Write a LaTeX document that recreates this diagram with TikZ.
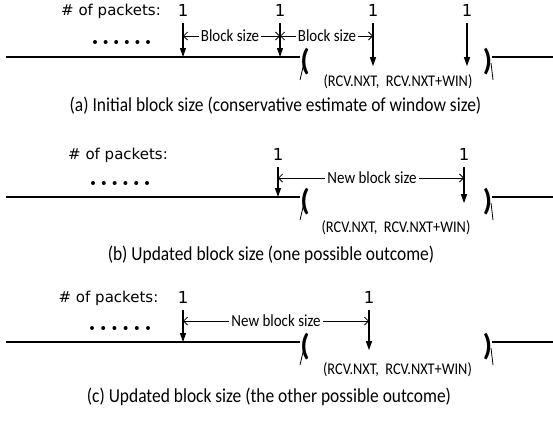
\documentclass[tikz,border=0pt]{standalone}
\usepackage{fontspec}
\setmainfont{Carlito}
\newfontfamily\numfont{DejaVu Sans}
\newfontfamily\condfont[FakeStretch=0.88]{Carlito}
\usetikzlibrary{arrows.meta}

\begin{document}
\begin{tikzpicture}
[x=1pt, y=-1pt,
    pkt/.style={font=\numfont\fontsize{15}{15}\selectfont, inner sep=0pt},
    one/.style={font=\numfont\fontsize{16.5}{16.5}\selectfont, inner sep=0pt},
    lbl/.style={font=\condfont\fontsize{17}{17}\selectfont, inner sep=2pt},
    rcv/.style={font=\condfont\fontsize{16.3}{16.3}\selectfont, inner sep=0pt},
    caption/.style={font=\condfont\fontsize{19.8}{19.8}\selectfont, inner sep=0pt},
    brk/.style={font=\bfseries\fontsize{30}{30}\selectfont, inner sep=0pt},
    drop/.style={line width=1.1pt, -{Triangle[length=9pt, width=6pt]}},
    dim/.style={line width=0.8pt, -{Straight Barb[length=4pt, width=8pt]}},
    axis/.style={line width=1.3pt},
    tail/.style={line width=0.8pt}]
\useasboundingbox (0,0) rectangle (553,421);

% (a) initial block size
\node [pkt] (pa) at (111,11) {\# of packets:};
\foreach \i in {0,...,5}
    \fill (95+10.6*\i,42) circle (2pt);
\node [one] (a1) at (183,10) {1};
\node [one] (a2) at (280,10) {1};
\node [one] (a3) at (373,10) {1};
\node [one] (a4) at (467,10) {1};
\node [brk] (ao) at (305,62) {(};
\node [brk] (ac) at (487.5,62) {)};
\coordinate (aL) at (6,57);
\coordinate (aR) at (553,57);
\draw [axis] (aL) -- (aL -| ao.west);
\draw [axis] (ac.east |- aR) -- (aR);
\draw [tail] (300,80) -- (304,63);
\draw [tail] (491,63) -- (493,80);
\draw [drop] ([yshift=-7pt]a1.south) -- (a1 |- aL);
\draw [drop] ([yshift=-7pt]a2.south) -- (a2 |- aL);
\draw [drop] ([yshift=-7pt]a3.south) -- ++(0,43);
\draw [drop] ([yshift=-7pt]a4.south) -- ++(0,43);
\node [lbl] (ab1) at (230,36) {Block size};
\node [lbl] (ab2) at (327,36) {Block size};
\draw [dim] (ab1.west) -- (ab1.west -| a1);
\draw [dim] (ab1.east) -- (ab1.east -| a2);
\draw [dim] (ab2.west) -- (ab2.west -| a2);
\draw [dim] (ab2.east) -- (ab2.east -| a3);
\node [rcv] (ar) at (398,82) {(RCV.NXT,\ \ RCV.NXT+WIN)};
\node [caption] (acap) at (275.5,106) {(a) Initial block size (conservative estimate of window size)};

% (b) one possible outcome
\node [pkt] (pb) at (118,155) {\# of packets:};
\foreach \i in {0,...,5}
    \fill (93+10.8*\i,183) circle (2pt);
\node [one] (b1) at (278,154) {1};
\node [one] (b2) at (464,154) {1};
\node [brk] (bo) at (305,202) {(};
\node [brk] (bc) at (487.5,202) {)};
\coordinate (bL) at (6,197);
\coordinate (bR) at (553,197);
\draw [axis] (bL) -- (bL -| bo.west);
\draw [axis] (bc.east |- bR) -- (bR);
\draw [tail] (300,220) -- (304,203);
\draw [tail] (491,203) -- (493,220);
\draw [drop] ([yshift=-7pt]b1.south) -- (b1 |- bL);
\draw [drop] ([yshift=-7pt]b2.south) -- ++(0,36);
\node [lbl] (bn) at (372,178) {New block size};
\draw [dim] (bn.west) -- (bn.west -| b1);
\draw [dim] (bn.east) -- (bn.east -| b2);
\node [rcv] (br) at (396,228) {(RCV.NXT,\ \ RCV.NXT+WIN)};
\node [caption] (bcap) at (271,255) {(b) Updated block size (one possible outcome)};

% (c) the other possible outcome
\node [pkt] (pc) at (108.5,298) {\# of packets:};
\foreach \i in {0,...,5}
    \fill (92+11.2*\i,328) circle (2pt);
\node [one] (c1) at (183,297) {1};
\node [one] (c2) at (369,297) {1};
\node [brk] (co) at (305,347) {(};
\node [brk] (cc) at (487.5,347) {)};
\coordinate (cL) at (6,342);
\coordinate (cR) at (553,342);
\draw [axis] (cL) -- (cL -| co.west);
\draw [axis] (cc.east |- cR) -- (cR);
\draw [tail] (300,365) -- (304,348);
\draw [tail] (491,348) -- (493,365);
\draw [drop] ([yshift=-7pt]c1.south) -- (c1 |- cL);
\draw [drop] ([yshift=-7pt]c2.south) -- ++(0,40);
\node [lbl] (cn) at (276,321) {New block size};
\draw [dim] (cn.west) -- (cn.west -| c1);
\draw [dim] (cn.east) -- (cn.east -| c2);
\node [rcv] (cr) at (397.5,370) {(RCV.NXT,\ \ RCV.NXT+WIN)};
\node [caption] (ccap) at (269,397) {(c) Updated block size (the other possible outcome)};
\end{tikzpicture}
\end{document}
